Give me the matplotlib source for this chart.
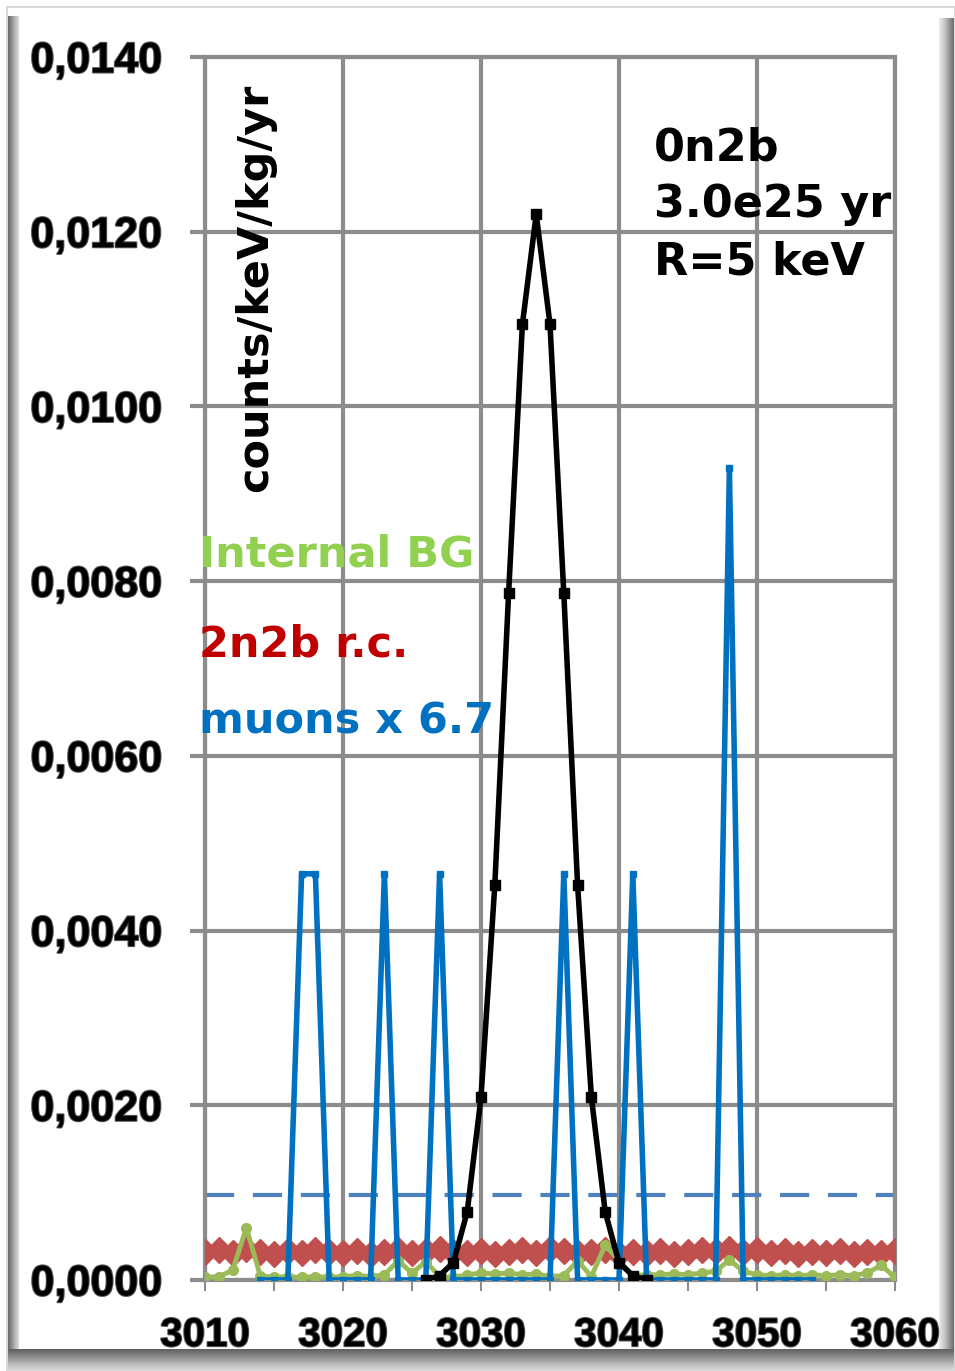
import numpy as np
import matplotlib
matplotlib.use("Agg")
import matplotlib.pyplot as plt
import matplotlib.patches as patches
import matplotlib.patheffects as pe

# energy axis (keV)
e_all = np.arange(3010, 3061)

# 0n2b signal, 3.0e25 yr, R=5 keV
e_sig = np.arange(3026, 3043)
sig = [0.0, 0.00005, 0.0002, 0.00078, 0.00209, 0.00452, 0.00786, 0.01094, 0.0122,
       0.01094, 0.00786, 0.00452, 0.00209, 0.00078, 0.0002, 0.00005, 0.0]

# muons x 6.7
e_mu = np.arange(3014, 3055)
mu = [0, 0, 0, 0.00465, 0.00465, 0, 0, 0, 0, 0.00465, 0, 0, 0, 0.00465, 0, 0,
      0, 0, 0, 0, 0, 0, 0.00465, 0, 0, 0, 0, 0.00465, 0, 0, 0, 0, 0, 0, 0.0093,
      0, 0, 0, 0, 0, 0]

# 2n2b r.c.
rc = [0.00032, 0.00034, 0.00031, 0.00035, 0.00032, 0.00030, 0.00033, 0.00031, 0.00034, 0.00032,
      0.00031, 0.00033, 0.00030, 0.00032, 0.00034, 0.00031, 0.00033, 0.00035, 0.00032, 0.00031,
      0.00033, 0.00030, 0.00032, 0.00034, 0.00031, 0.00035, 0.00033, 0.00031, 0.00032, 0.00034,
      0.00030, 0.00032, 0.00031, 0.00033, 0.00030, 0.00032, 0.00034, 0.00033, 0.00035, 0.00032,
      0.00034, 0.00031, 0.00033, 0.00030, 0.00032, 0.00031, 0.00033, 0.00030, 0.00032, 0.00031,
      0.00033]

# internal BG
bg = [0.00003, 0.00004, 0.00011, 0.0006, 0.00005, 0.00003, 0.00004, 0.00003, 0.00004, 0.00003,
      0.00004, 0.00005, 0.00004, 0.00006, 0.00022, 0.00008, 0.00021, 0.00004, 0.00003, 0.00006,
      0.00008, 0.00007, 0.00008, 0.00006, 0.00007, 0.00004, 0.00005, 0.00022, 0.00004, 0.0004,
      0.00022, 0.00005, 0.00006, 0.00006, 0.00007, 0.00006, 0.00008, 0.0001, 0.00023, 0.0001,
      0.00006, 0.00005, 0.00006, 0.00005, 0.00006, 0.00005, 0.00006, 0.00005, 0.00008, 0.00017,
      0.00003]

muon_level = 0.00097

xticks = [3010, 3020, 3030, 3040, 3050, 3060]
yticks = [0.0, 0.002, 0.004, 0.006, 0.008, 0.010, 0.012, 0.014]
ytick_labels = ["0,0000", "0,0020", "0,0040", "0,0060", "0,0080", "0,0100", "0,0120", "0,0140"]

W, H = 955, 1371
fig = plt.figure(figsize=(W / 100, H / 100), dpi=100)
fig.patch.set_facecolor("white")

# frame with bevel shadows
fig.add_artist(patches.Rectangle((7 / W, 0), 1 - 7 / W, 1 - 7 / H, transform=fig.transFigure,
                                 fill=False, ec="#d8d8d8", lw=1.5))
grad = np.linspace(0, 1, 64)[None, :]
sh = fig.add_axes([939 / W, 0, 16 / W, 1 - 18 / H])
sh.imshow(grad, aspect="auto", cmap="Greys", vmin=-0.3, vmax=1.6, extent=[0, 1, 0, 1])
sh.axis("off")
sb = fig.add_axes([7 / W, 0, 1 - 7 / W, 22 / H])
sb.imshow(grad.T[::-1], aspect="auto", cmap="Greys", vmin=-0.5, vmax=1.6, extent=[0, 1, 0, 1])
sb.axis("off")
sl = fig.add_axes([7 / W, 22 / H, 12 / W, 1 - 38 / H])
sl.imshow(grad[:, ::-1], aspect="auto", cmap="Greys", vmin=-0.5, vmax=1.6, extent=[0, 1, 0, 1])
sl.axis("off")

ax = fig.add_axes([205 / W, 91 / H, 690 / W, 1223 / H])
ax.set_xlim(3010, 3060)
ax.set_ylim(0, 0.014)

grid_c = "#8c8c8c"
ax.set_xticks(xticks)
ax.set_xticks([3015, 3025, 3035, 3045, 3055], minor=True)
ax.set_yticks(yticks)
ax.set_yticklabels(ytick_labels)
ax.grid(True, which="major", color=grid_c, lw=3)
for s in ax.spines.values():
    s.set_color(grid_c)
    s.set_linewidth(3)
ax.tick_params(axis="y", which="major", length=11, width=3, color=grid_c, pad=20)
ax.tick_params(axis="x", which="both", length=8, width=1.5, color=grid_c, pad=18)

tick_font = dict(family=["Liberation Sans Narrow", "Liberation Sans", "DejaVu Sans"],
                 weight="bold")
for lab in ax.get_yticklabels():
    lab.set(fontsize=31, **tick_font)
    lab.set_path_effects([pe.withStroke(linewidth=1.5, foreground="#555555")])
for lab in ax.get_xticklabels():
    lab.set(fontsize=29, **tick_font)
    lab.set_path_effects([pe.withStroke(linewidth=1.5, foreground="#555555")])

ax.axhline(muon_level, color="#4f81bd", lw=3, ls=(0, (7, 4.5)))
ax.plot(e_all, rc, color="#c0504d", lw=2, marker="D", ms=13, mec="#c0504d", zorder=3)
ax.plot(e_all, bg, color="#9bbb59", lw=3.5, marker="o", ms=7, zorder=3)
ax.plot(e_mu, mu, color="#0070c0", lw=4, marker="s", ms=5, zorder=4)
ax.plot(e_sig, sig, color="black", lw=4, marker="s", ms=7, zorder=5)

txt = dict(family="DejaVu Sans", weight="bold", fontsize=31)
ax.text(3013.6, 0.01136, "counts/keV/kg/yr", rotation=90, ha="center", va="center",
        family="DejaVu Sans", weight="bold", fontsize=31)
ax.text(3009.6, 0.0083, "Internal BG", color="#92d050", ha="left", va="center", **txt)
ax.text(3009.6, 0.00727, "2n2b r.c.", color="#c00000", ha="left", va="center", **txt)
ax.text(3009.6, 0.00639, "muons x 6.7", color="#0070c0", ha="left", va="center", **txt)
ann = dict(family="DejaVu Sans", weight="bold", fontsize=32)
ax.text(3042.5, 0.01296, "0n2b", ha="left", va="center", **ann)
ax.text(3042.5, 0.01231, "3.0e25 yr", ha="left", va="center", **ann)
ax.text(3042.5, 0.01165, "R=5 keV", ha="left", va="center", **ann)

fig.savefig("out.png", dpi=100)
